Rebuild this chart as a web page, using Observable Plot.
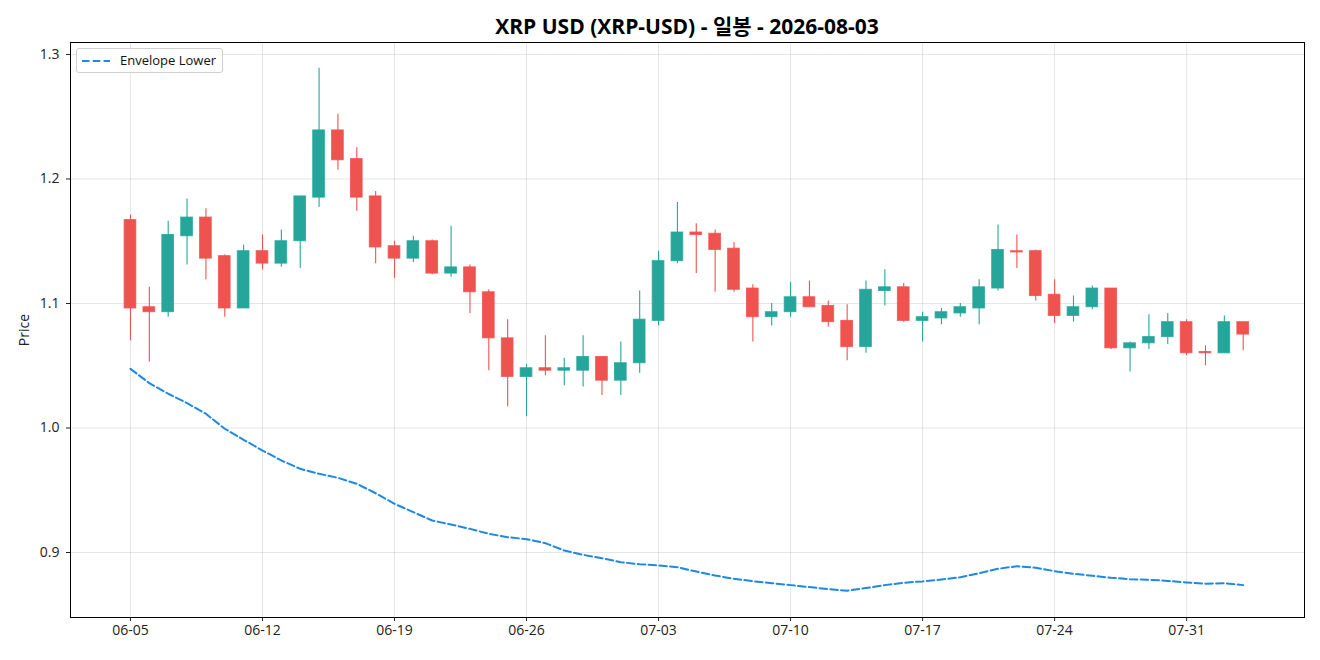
<!DOCTYPE html>
<html>
<head>
<meta charset="utf-8">
<script src="https://cdn.jsdelivr.net/npm/d3@7"></script>
<script src="https://cdn.jsdelivr.net/npm/@observablehq/plot@0.6"></script>
<style>
  html, body { margin: 0; padding: 0; background: #fff; }
  body { width: 1320px; height: 660px; position: relative; overflow: hidden;
         font-family: "Open Sans", "Noto Sans CJK KR", sans-serif; }
  #title { position: absolute; left: 70px; width: 1234px; top: 11px; text-align: center;
           font-size: 21px; font-weight: bold; color: #000; line-height: 30px; }
  #chart { position: absolute; left: 0; top: 40px; }
  #legend { position: absolute; left: 76px; top: 48px; width: 147px; height: 25px;
            border: 1px solid #d0d0d0; border-radius: 3px; background: rgba(255,255,255,0.85);
            font-size: 13px; color: #111; box-sizing: border-box; }
  #legend svg { position: absolute; left: 5px; top: 10px; }
  #legend span { position: absolute; left: 43px; top: 2px; line-height: 19px; }
</style>
</head>
<body>
<div id="title">XRP USD (XRP-USD) - 일봉 - 2026-08-03</div>
<div id="chart"></div>
<div id="legend"><svg width="28" height="4"><line x1="0" y1="2" x2="28" y2="2" stroke="#1e88e5" stroke-width="2" stroke-dasharray="7.5,3.3"/></svg><span>Envelope Lower</span></div>
<script>
const year = 2026;
const dates = ["06-05","06-06","06-07","06-08","06-09","06-10","06-11","06-12","06-13","06-14",
  "06-15","06-16","06-17","06-18","06-19","06-20","06-21","06-22","06-23","06-24",
  "06-25","06-26","06-27","06-28","06-29","06-30","07-01","07-02","07-03","07-04",
  "07-05","07-06","07-07","07-08","07-09","07-10","07-11","07-12","07-13","07-14",
  "07-15","07-16","07-17","07-18","07-19","07-20","07-21","07-22","07-23","07-24",
  "07-25","07-26","07-27","07-28","07-29","07-30","07-31","08-01","08-02","08-03"];
const open = [1.167,1.097,1.093,1.154,1.169,1.138,1.096,1.142,1.132,1.150,
  1.185,1.239,1.216,1.186,1.146,1.136,1.150,1.124,1.129,1.109,
  1.072,1.041,1.048,1.046,1.046,1.057,1.038,1.052,1.086,1.134,
  1.157,1.156,1.144,1.112,1.089,1.093,1.105,1.098,1.086,1.065,
  1.110,1.113,1.086,1.088,1.092,1.096,1.112,1.142,1.142,1.107,
  1.090,1.097,1.112,1.064,1.068,1.073,1.085,1.061,1.060,1.085];
const high = [1.171,1.113,1.166,1.184,1.176,1.139,1.147,1.155,1.159,1.186,
  1.289,1.252,1.225,1.190,1.150,1.154,1.151,1.162,1.131,1.111,
  1.087,1.051,1.074,1.056,1.074,1.057,1.069,1.110,1.142,1.181,
  1.164,1.159,1.149,1.115,1.100,1.117,1.118,1.102,1.099,1.118,
  1.127,1.116,1.093,1.096,1.100,1.119,1.163,1.155,1.143,1.119,
  1.106,1.114,1.112,1.069,1.091,1.092,1.087,1.066,1.090,1.085];
const low = [1.070,1.053,1.089,1.131,1.119,1.089,1.096,1.127,1.129,1.128,
  1.177,1.207,1.174,1.132,1.120,1.133,1.123,1.121,1.092,1.046,
  1.017,1.009,1.042,1.034,1.033,1.026,1.026,1.044,1.082,1.132,
  1.124,1.109,1.109,1.069,1.082,1.089,1.097,1.081,1.054,1.060,
  1.098,1.085,1.069,1.083,1.089,1.083,1.110,1.128,1.102,1.084,
  1.085,1.095,1.063,1.045,1.063,1.067,1.058,1.050,1.060,1.062];
const close = [1.096,1.093,1.155,1.169,1.136,1.096,1.142,1.132,1.150,1.186,
  1.239,1.215,1.185,1.145,1.136,1.150,1.124,1.129,1.109,1.072,
  1.041,1.048,1.046,1.048,1.057,1.038,1.052,1.087,1.134,1.157,
  1.155,1.143,1.111,1.089,1.093,1.105,1.097,1.085,1.065,1.111,
  1.113,1.086,1.089,1.093,1.097,1.113,1.143,1.141,1.106,1.090,
  1.097,1.112,1.064,1.068,1.073,1.085,1.060,1.060,1.085,1.075];
const envelopeLower = [1.0475,1.0360,1.0275,1.0200,1.0114,0.9994,0.9905,0.9819,0.9739,0.9672,
  0.9632,0.9600,0.9552,0.9476,0.9391,0.9324,0.9257,0.9225,0.9190,0.9150,
  0.9123,0.9107,0.9075,0.9016,0.8981,0.8954,0.8922,0.8906,0.8896,0.8882,
  0.8847,0.8815,0.8789,0.8770,0.8754,0.8738,0.8722,0.8706,0.8693,0.8714,
  0.8738,0.8757,0.8768,0.8783,0.8801,0.8834,0.8869,0.8890,0.8877,0.8850,
  0.8829,0.8813,0.8797,0.8786,0.8781,0.8772,0.8759,0.8749,0.8754,0.8738];
const xTickLabels = ["06-05","06-12","06-19","06-26","07-03","07-10","07-17","07-24","07-31"];
const yTicks = [0.9, 1.0, 1.1, 1.2, 1.3];

const DAY = 864e5;
const parse = s => new Date(`${year}-${s}T00:00:00Z`);
const rows = dates.map((d, i) => ({
  date: parse(d), open: open[i], high: high[i], low: low[i], close: close[i],
  env: envelopeLower[i],
  color: close[i] >= open[i] ? "#26a69a" : "#ef5350"
}));
const xTicks = xTickLabels.map(parse);
const t0 = parse(dates[0]).getTime();
const halfW = 0.31 * DAY;

const chart = Plot.plot({
  width: 1320,
  height: 620,
  marginTop: 2,
  marginBottom: 43,
  marginLeft: 70,
  marginRight: 16,
  style: { fontFamily: '"Open Sans", "Noto Sans CJK KR", sans-serif', fontSize: "14px", color: "#222", background: "#fff" },
  x: { type: "utc", domain: [new Date(t0 - 3.18 * DAY), new Date(t0 + 62.25 * DAY)] },
  y: { domain: [0.8478, 1.3096] },
  color: { type: "identity" },
  marks: [
    Plot.gridX(xTicks, { stroke: "#000", strokeOpacity: 0.1, strokeWidth: 1 }),
    Plot.gridY(yTicks, { stroke: "#000", strokeOpacity: 0.1, strokeWidth: 1 }),
    Plot.ruleX(rows, { x: "date", y1: "low", y2: "high", stroke: "color", strokeWidth: 1.1 }),
    Plot.rect(rows, {
      x1: d => new Date(d.date.getTime() - halfW),
      x2: d => new Date(d.date.getTime() + halfW),
      y1: "open", y2: "close", fill: "color", stroke: "color", strokeWidth: 1, strokeOpacity: 0.8
    }),
    Plot.line(rows, { x: "date", y: "env", stroke: "#1e88e5", strokeWidth: 2, strokeDasharray: "7.5,3.3" }),
    Plot.frame({ stroke: "#000", strokeWidth: 1 }),
    Plot.axisX({ ticks: xTicks, tickFormat: d3.utcFormat("%m-%d"), tickSize: 4, tickPadding: 4, label: null, fontSize: 14 }),
    Plot.axisY({ ticks: yTicks, tickFormat: d3.format(".1f"), tickSize: 4, tickPadding: 7, label: "Price",
                 labelAnchor: "center", labelArrow: "none", labelOffset: 51, fontSize: 14 })
  ]
});
document.getElementById("chart").appendChild(chart);
</script>
</body>
</html>
